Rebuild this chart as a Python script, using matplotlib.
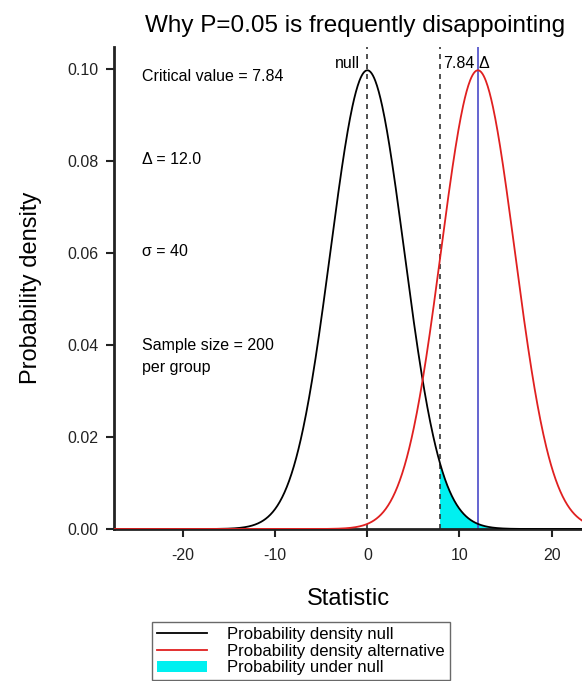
"""
Why P=0.05 is frequently disappointing:
null and alternative sampling distributions of the difference
"""

import numpy as np
import matplotlib.pyplot as plt

plt.rcParams['font.family'] = ['Liberation Sans', 'DejaVu Sans']
plt.rcParams['axes.unicode_minus'] = False

# parameters shown on the chart
delta = 12.0          # true difference (alternative mean)
sigma = 40            # SD of the observations
n_per_group = 200     # sample size per group
crit = 7.84           # critical value (two-sided P = 0.05)
null_mean = 0.0

x_ticks = [-20, -10, 0, 10, 20]
y_ticks = [0.00, 0.02, 0.04, 0.06, 0.08, 0.10]

# standard error of the difference between two means
se = sigma * np.sqrt(2 / n_per_group)


def normal_pdf(x, mu, sd):
    return np.exp(-0.5 * ((x - mu) / sd) ** 2) / (sd * np.sqrt(2 * np.pi))


xmin, xmax = -27.5, 23.3
ytop = 0.1048

x = np.linspace(xmin, xmax, 800)
pdf_null = normal_pdf(x, null_mean, se)
pdf_alt = normal_pdf(x, delta, se)

fig = plt.figure(figsize=(5.82, 6.81), dpi=100)
ax = fig.add_axes([0.1959, 0.2232, 0.8041, 0.7078])

# shaded tail of null beyond critical value
xt = np.concatenate(([crit], x[x >= crit]))
yt = normal_pdf(xt, null_mean, se)
h_fill = ax.fill_between(xt, 0, yt, color='#00f0f0', lw=0, zorder=1,
                         label='Probability under null')

h_null, = ax.plot(x, pdf_null, color='black', lw=1.3, zorder=3,
                  label='Probability density null')
h_alt, = ax.plot(x, pdf_alt, color='#e02020', lw=1.3, zorder=3,
                 label='Probability density alternative')

ax.plot([null_mean, null_mean], [0, ytop], color='#333333', lw=1.2, ls=(0, (3, 3)), zorder=2)
ax.plot([crit, crit], [0, ytop], color='#333333', lw=1.2, ls=(0, (3, 3)), zorder=2)
ax.plot([delta, delta], [0, ytop], color='#4a4ac8', lw=1.2, zorder=2)

fs = 11.5
ax.text(null_mean - 0.8, 0.1012, 'null', ha='right', va='center', fontsize=fs)
ax.text(crit + 0.35, 0.1012, '%.2f' % crit, ha='left', va='center', fontsize=fs)
ax.text(delta + 0.1, 0.1012, '\u0394', ha='left', va='center', fontsize=fs)

# annotations
ax.text(-24.5, 0.0983, 'Critical value = %.2f' % crit, ha='left', va='center', fontsize=fs)
ax.text(-24.5, 0.0803, '\u0394 = %.1f' % delta, ha='left', va='center', fontsize=fs)
ax.text(-24.5, 0.0603, '\u03c3 = %d' % sigma, ha='left', va='center', fontsize=fs)
ax.text(-24.5, 0.0400, 'Sample size = %d' % n_per_group, ha='left', va='center', fontsize=fs)
ax.text(-24.5, 0.0352, 'per group', ha='left', va='center', fontsize=fs)

ax.set_xlim(xmin, xmax)
ax.set_ylim(0, ytop)
ax.set_xticks(x_ticks)
ax.set_yticks(y_ticks)
ax.set_yticklabels(['%.2f' % v for v in y_ticks])
ax.tick_params(direction='out', length=6, width=1.5, labelsize=fs, pad=5,
               colors='#222222')
ax.tick_params(axis='x', pad=8)
for s in ['top', 'right']:
    ax.spines[s].set_visible(False)
for s in ['left', 'bottom']:
    ax.spines[s].set_linewidth(2)
    ax.spines[s].set_color('#222222')

ax.set_xlabel('Statistic', fontsize=17, labelpad=18)
ax.set_ylabel('Probability density', fontsize=17, labelpad=18)
fig.text(0.61, 0.962, 'Why P=0.05 is frequently disappointing', ha='center',
         va='center', fontsize=17.5)

leg = fig.legend(handles=[h_null, h_alt, h_fill], loc='upper left',
                 bbox_to_anchor=(152 / 582, 0.0866), fontsize=12, frameon=True,
                 fancybox=False, edgecolor='#444444', handlelength=3.0,
                 labelspacing=0.1, borderpad=0.3, handletextpad=1.2,
                 borderaxespad=0)
leg.get_frame().set_linewidth(1.0)

plt.savefig('out.png', dpi=100)
